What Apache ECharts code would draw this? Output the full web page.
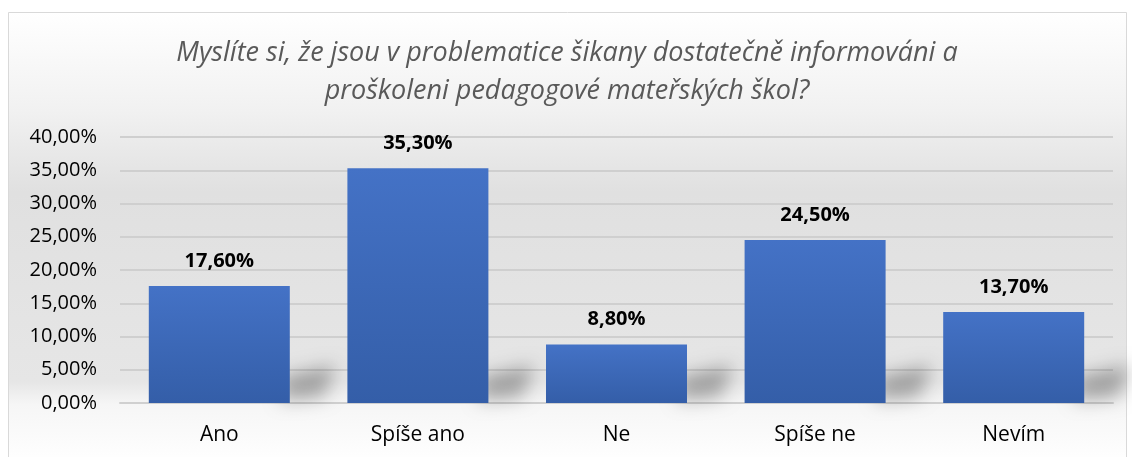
<!DOCTYPE html>
<html>
<head>
<meta charset="utf-8">
<style>
  html, body { margin: 0; padding: 0; background: #fff; }
  #chart { width: 1132px; height: 457px; }
</style>
<script src="https://cdn.jsdelivr.net/npm/echarts@6/dist/echarts.min.js"></script>
</head>
<body>
<div id="chart"></div>
<script>
// data
const categories = ['Ano', 'Spíše ano', 'Ne', 'Spíše ne', 'Nevím'];
const shares = [17.6, 35.3, 8.8, 24.5, 13.7];
const yTicks = [0, 5, 10, 15, 20, 25, 30, 35, 40];

const fmt = v => v.toFixed(2).replace('.', ',') + '%';
const font = 'Open Sans, Noto Sans, sans-serif';
const SHIFT = 3000; // draw shadow caster off-screen so only the blurred shadow shows

const chart = echarts.init(document.getElementById('chart'), null, { renderer: 'canvas' });

chart.setOption({
  animation: false,
  title: {
    text: 'Myslíte si, že jsou v problematice šikany dostatečně informováni a\nproškoleni pedagogové mateřských škol?',
    left: 562,
    textAlign: 'center',
    top: 29,
    textStyle: {
      fontFamily: font,
      fontStyle: 'italic',
      fontWeight: 'normal',
      fontSize: 27,
      color: '#595959',
      lineHeight: 38
    }
  },
  graphic: [{
    type: 'rect',
    z: -10,
    silent: true,
    shape: { x: 8.5, y: 12.5, width: 1118, height: 450 },
    style: {
      fill: new echarts.graphic.LinearGradient(0, 0, 0, 1, [
        { offset: 0, color: '#ffffff' },
        { offset: 0.22, color: '#f1f1f1' },
        { offset: 0.4, color: '#e0e0e0' },
        { offset: 0.82, color: '#e6e6e6' },
        { offset: 0.87, color: '#f6f6f6' },
        { offset: 1, color: '#ffffff' }
      ]),
      stroke: '#d9d9d9',
      lineWidth: 1
    }
  }],
  grid: { left: 120, right: 19, top: 137, bottom: 54 },
  xAxis: {
    type: 'category',
    data: categories,
    axisLine: { show: true, lineStyle: { color: '#d0d0d0', width: 2 } },
    axisTick: { show: false },
    axisLabel: { fontFamily: font, fontSize: 21, color: '#000', margin: 22 }
  },
  yAxis: {
    type: 'value',
    min: yTicks[0],
    max: yTicks[yTicks.length - 1],
    interval: 5,
    axisLine: { show: false },
    axisTick: { show: false },
    splitLine: { lineStyle: { color: '#cfcfcf', width: 2 } },
    axisLabel: { fontFamily: font, fontSize: 20, color: '#000', margin: 23, formatter: v => fmt(v) }
  },
  series: [{
    // soft diagonal shadow behind each bar's foot
    type: 'custom',
    z: 1,
    silent: true,
    data: shares.map((v, i) => [i, v]),
    renderItem: (params, api) => {
      const base = api.coord([api.value(0), 0]);
      const size = api.size([1, 0]);
      const right = base[0] + size[0] * 0.355 - SHIFT;
      const y = base[1];
      return {
        type: 'polygon',
        shape: { points: [[right - 8, y - 2], [right - 8, y - 26], [right + 46, y - 38], [right + 34, y - 6]] },
        style: {
          fill: '#000',
          shadowBlur: 18,
          shadowOffsetX: SHIFT,
          shadowColor: 'rgba(0,0,0,0.3)'
        }
      };
    }
  }, {
    type: 'bar',
    z: 2,
    data: shares,
    barWidth: '71%',
    itemStyle: {
      color: new echarts.graphic.LinearGradient(0, 0, 0, 1, [
        { offset: 0, color: '#4472c6' },
        { offset: 1, color: '#345ea8' }
      ])
    },
    label: {
      show: true,
      position: 'top',
      distance: 15,
      fontFamily: font,
      fontSize: 20,
      fontWeight: 'bold',
      color: '#000',
      formatter: p => fmt(p.value)
    }
  }]
});
</script>
</body>
</html>
